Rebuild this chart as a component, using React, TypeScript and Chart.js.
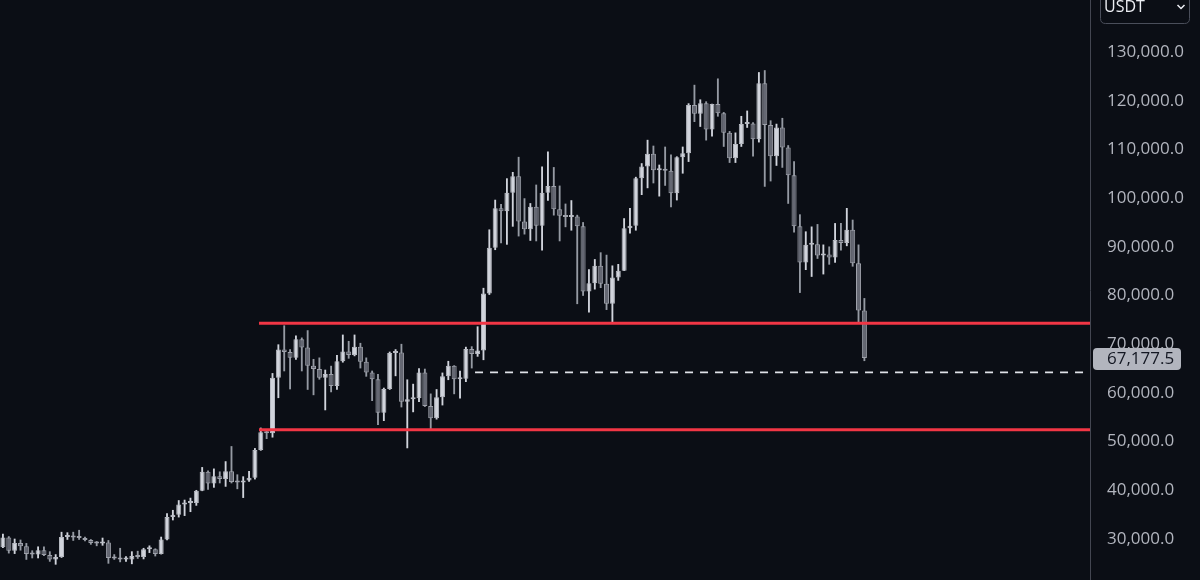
import React, { useEffect, useRef } from 'react';
import { Chart, registerables } from 'chart.js';

Chart.register(...registerables);

// Weekly BTC/USDT candles (thousands of USDT), first week 2023-04-10
const firstWeek = '2023-04-10';
const totalSlots = 186;

const opens = [
  28.3, 30.3, 27.6, 29.2, 28.5, 26.9, 26.8, 27.7, 26.7, 25.8,
  26.3, 30.4, 30.6, 30.3, 30.2, 29.8, 29.2, 29.1, 29.3, 26.1,
  26.0, 25.8, 25.8, 26.5, 26.3, 27.9, 27.9, 26.9, 29.9, 34.5,
  35.0, 37.1, 37.4, 37.4, 39.9, 43.8, 41.4, 42.9, 42.3, 43.9,
  41.7, 41.6, 42.0, 42.6, 48.3, 51.9, 51.7, 63.1, 68.9, 68.4,
  67.2, 71.0, 69.3, 65.6, 64.9, 63.1, 63.9, 61.4, 66.5, 68.5,
  67.8, 69.5, 66.4, 64.2, 62.8, 55.9, 60.8, 68.2, 68.3, 58.2,
  58.7, 58.9, 64.2, 57.3, 54.8, 59.1, 63.4, 65.6, 62.8, 62.9,
  69.0, 68.0, 68.7, 80.4, 89.8, 97.9, 97.3, 101.1, 104.5, 95.2,
  93.6, 98.2, 94.3, 101.1, 102.5, 97.7, 96.4, 96.1, 96.2, 94.2,
  80.8, 82.5, 86.1, 82.4, 78.3, 83.7, 85.1, 93.8, 94.3, 104.1,
  106.5, 109.1, 105.7, 105.7, 105.6, 101.0, 108.4, 109.2, 119.1, 117.3,
  119.5, 114.1, 119.3, 117.4, 113.4, 108.2, 111.1, 115.2, 115.3, 112.1,
  123.6, 115.0, 108.6, 114.5, 110.4, 104.7, 94.2, 86.8, 90.4, 90.5,
  88.2, 88.4, 87.8, 91.4, 90.8, 93.5, 86.6, 76.9,
];

const highs = [
  31.0, 30.5, 30.0, 29.8, 29.1, 27.6, 28.4, 28.4, 27.4, 26.8,
  31.4, 31.3, 31.4, 31.8, 30.4, 29.9, 29.5, 30.2, 29.7, 26.8,
  28.1, 26.4, 27.4, 27.5, 28.1, 28.6, 28.0, 30.4, 35.2, 35.9,
  37.9, 38.0, 38.4, 40.0, 44.7, 44.0, 44.4, 43.8, 45.9, 49.0,
  43.2, 42.8, 43.9, 48.6, 52.8, 52.4, 64.0, 69.9, 73.8, 68.9,
  71.7, 71.3, 72.8, 66.9, 67.2, 64.7, 65.5, 67.7, 71.9, 70.6,
  71.9, 70.2, 67.2, 64.5, 63.8, 61.0, 68.4, 68.9, 70.0, 62.7,
  61.8, 65.0, 64.9, 59.8, 60.7, 64.1, 66.5, 65.6, 64.5, 69.4,
  69.5, 73.6, 81.5, 93.5, 99.6, 98.7, 104.0, 105.3, 108.4, 99.9,
  98.9, 102.7, 106.4, 109.5, 106.3, 102.5, 98.8, 99.5, 96.5, 95.0,
  85.3, 87.4, 88.8, 88.3, 86.1, 86.4, 95.8, 97.9, 104.3, 107.1,
  111.9, 110.7, 106.8, 110.5, 108.9, 108.5, 110.5, 119.4, 123.2, 120.2,
  119.8, 119.3, 124.5, 117.6, 113.7, 113.4, 116.8, 117.9, 115.5, 125.8,
  126.2, 115.9, 115.2, 116.4, 110.8, 107.5, 96.6, 93.1, 94.1, 94.6,
  90.4, 90.0, 94.8, 94.8, 97.9, 95.5, 90.4, 79.4,
];

const lows = [
  28.2, 27.1, 27.0, 27.7, 25.8, 26.1, 26.1, 26.6, 25.4, 24.8,
  26.2, 29.9, 29.7, 29.9, 29.6, 28.9, 28.6, 28.7, 25.0, 25.8,
  25.3, 25.4, 24.9, 26.0, 25.9, 27.2, 26.5, 26.9, 29.8, 33.9,
  34.5, 34.8, 35.6, 36.9, 39.9, 40.2, 40.6, 41.5, 40.8, 41.5,
  40.3, 38.5, 41.8, 42.3, 48.2, 50.6, 50.9, 59.0, 64.5, 60.8,
  66.9, 64.5, 60.7, 59.6, 62.8, 56.5, 60.2, 60.7, 66.3, 67.1,
  67.6, 65.1, 63.4, 58.4, 53.5, 54.3, 60.7, 63.5, 57.1, 48.7,
  56.1, 58.2, 57.2, 52.5, 54.6, 57.5, 62.7, 59.8, 58.9, 62.3,
  65.1, 67.5, 66.8, 80.2, 89.4, 90.8, 90.5, 94.2, 92.2, 92.6,
  91.3, 91.2, 89.3, 99.5, 96.5, 91.2, 94.1, 93.4, 78.3, 80.0,
  76.6, 81.3, 81.6, 77.1, 74.5, 83.1, 85.1, 92.8, 93.4, 100.7,
  102.1, 103.1, 100.4, 102.6, 98.2, 99.6, 105.1, 107.5, 115.7, 114.7,
  111.9, 112.7, 116.8, 110.6, 107.3, 107.3, 110.6, 114.5, 108.6, 111.5,
  102.4, 103.5, 106.7, 106.3, 98.9, 93.0, 80.6, 85.3, 83.9, 87.6,
  84.4, 86.4, 86.8, 89.3, 90.2, 86.0, 74.6, 66.6,
];

const closes = [
  30.3, 27.6, 29.2, 28.5, 26.9, 26.8, 27.7, 26.7, 25.8, 26.3,
  30.4, 30.6, 30.3, 30.2, 29.8, 29.2, 29.1, 29.3, 26.1, 26.0,
  25.8, 25.8, 26.5, 26.3, 27.9, 27.9, 26.9, 29.9, 34.5, 35.0,
  37.1, 37.4, 37.4, 39.9, 43.8, 41.4, 42.9, 42.3, 43.9, 41.7,
  41.6, 42.0, 42.6, 48.3, 51.9, 51.7, 63.1, 68.9, 68.4, 67.2,
  71.0, 69.3, 65.6, 64.9, 63.1, 63.9, 61.4, 66.5, 68.5, 67.8,
  69.5, 66.4, 64.2, 62.8, 55.9, 60.8, 68.2, 68.3, 58.2, 58.7,
  58.9, 64.2, 57.3, 54.8, 59.1, 63.4, 65.6, 62.8, 62.9, 69.0,
  68.0, 68.7, 80.4, 89.8, 97.9, 97.3, 101.1, 104.5, 95.2, 93.6,
  98.2, 94.3, 101.1, 102.5, 97.7, 96.4, 96.1, 96.2, 94.2, 80.8,
  82.5, 86.1, 82.4, 78.3, 83.7, 85.1, 93.8, 94.3, 104.1, 106.5,
  109.1, 105.7, 105.7, 105.6, 101.0, 108.4, 109.2, 119.1, 117.3, 119.5,
  114.1, 119.3, 117.4, 113.4, 108.2, 111.1, 115.2, 115.3, 112.1, 123.6,
  115.0, 108.6, 114.5, 110.4, 104.7, 94.2, 86.8, 90.4, 90.5, 88.2,
  88.4, 87.8, 91.4, 90.8, 93.5, 86.6, 76.9, 67.1775,
];

const yTicks = [30, 40, 50, 60, 70, 80, 90, 100, 110, 120, 130];
const yMin = 21.58;
const yMax = 140.68;

// horizontal levels (thousands) and the week position where each starts
const levelValues = [74.28, 52.45];
const levelStarts = [43.7, 43.7];
const dashedValue = 64.22;
const dashedStart = 80.56;
const lastPrice = 67.1775;
const quoteCurrency = 'USDT';

const BG = '#0b0e15';
const UP_FILL = '#d1d4dc';
const UP_BORDER = '#b8bbc3';
const DOWN_FILL = '#656873';
const DOWN_BORDER = '#9ea1aa';
const UP_WICK = '#d1d4dc';
const DOWN_WICK = '#959aa3';
const RED = '#f23645';
const FONT = '"Open Sans", "Noto Sans", sans-serif';

const fmt = (v: number) =>
  (v * 1000).toLocaleString('en-US', { minimumFractionDigits: 1, maximumFractionDigits: 1 });

function buildLabels(): string[] {
  const start = Date.parse(firstWeek + 'T00:00:00Z');
  const out: string[] = [];
  for (let i = 0; i < totalSlots; i++) {
    out.push(new Date(start + i * 7 * 86400000).toISOString().slice(0, 10));
  }
  return out;
}

function roundRect(ctx: CanvasRenderingContext2D, x: number, y: number, w: number, h: number, r: number) {
  ctx.beginPath();
  ctx.moveTo(x + r, y);
  ctx.lineTo(x + w - r, y);
  ctx.quadraticCurveTo(x + w, y, x + w, y + r);
  ctx.lineTo(x + w, y + h - r);
  ctx.quadraticCurveTo(x + w, y + h, x + w - r, y + h);
  ctx.lineTo(x + r, y + h);
  ctx.quadraticCurveTo(x, y + h, x, y + h - r);
  ctx.lineTo(x, y + r);
  ctx.quadraticCurveTo(x, y, x + r, y);
  ctx.closePath();
}

const overlayPlugin = {
  id: 'overlay',
  beforeDraw(chart: any) {
    const { ctx, width, height } = chart;
    ctx.save();
    ctx.fillStyle = BG;
    ctx.fillRect(0, 0, width, height);
    ctx.restore();
  },
  afterDraw(chart: any) {
    const { ctx } = chart;
    const yScale = chart.scales.y;
    const left = yScale.left;
    const py = yScale.getPixelForValue(lastPrice);
    ctx.save();
    // last price tag
    ctx.fillStyle = '#b2b5be';
    roundRect(ctx, left + 3, py - 10, 88, 22, 4);
    ctx.fill();
    ctx.fillStyle = '#131722';
    ctx.font = '17px ' + FONT;
    ctx.textBaseline = 'middle';
    ctx.textAlign = 'left';
    ctx.fillText(fmt(lastPrice), left + 17, py + 1);
    // currency selector
    ctx.fillStyle = BG;
    ctx.strokeStyle = '#4a4e5a';
    ctx.lineWidth = 1;
    roundRect(ctx, left + 10.5, -8.5, 89, 32, 5);
    ctx.fill();
    ctx.stroke();
    ctx.fillStyle = '#eceef3';
    ctx.font = '16px ' + FONT;
    ctx.fillText(quoteCurrency, left + 14, 7.5);
    ctx.strokeStyle = '#eceef3';
    ctx.lineWidth = 1.5;
    ctx.beginPath();
    ctx.moveTo(left + 87.5, 5);
    ctx.lineTo(left + 91, 8.5);
    ctx.lineTo(left + 94.5, 5);
    ctx.stroke();
    ctx.restore();
  },
};

export default function App() {
  const canvasRef = useRef<HTMLCanvasElement | null>(null);

  useEffect(() => {
    const canvas = canvasRef.current;
    if (!canvas) return;
    const labels = buildLabels();
    const up = opens.map((o, i) => closes[i] >= o);
    const lastSlot = totalSlots - 0.5;

    const chart = new Chart(canvas, {
      type: 'bar',
      data: {
        labels,
        datasets: [
          {
            type: 'bar',
            label: 'wicks',
            data: lows.map((l, i) => [l, highs[i]]) as any,
            backgroundColor: up.map((u) => (u ? UP_WICK : DOWN_WICK)),
            borderWidth: 0,
            barThickness: 1.2,
            grouped: false,
            order: 3,
            xAxisID: 'x',
            yAxisID: 'y',
          } as any,
          {
            type: 'bar',
            label: 'bodies',
            data: opens.map((o, i) => [o, closes[i]]) as any,
            backgroundColor: up.map((u) => (u ? UP_FILL : DOWN_FILL)),
            borderColor: up.map((u) => (u ? UP_BORDER : DOWN_BORDER)),
            borderWidth: 1,
            borderSkipped: false,
            barPercentage: 0.86,
            categoryPercentage: 1,
            minBarLength: 2,
            grouped: false,
            order: 2,
            xAxisID: 'x',
            yAxisID: 'y',
          } as any,
          {
            type: 'line',
            label: 'dashed level',
            data: [
              { x: dashedStart, y: dashedValue },
              { x: lastSlot, y: dashedValue },
            ],
            borderColor: '#dfe1e8',
            borderWidth: 1.6,
            borderDash: [8, 7],
            pointRadius: 0,
            xAxisID: 'xl',
            yAxisID: 'y',
            order: 1,
          } as any,
          ...levelValues.map(
            (v, k) =>
              ({
                type: 'line',
                label: 'level ' + k,
                data: [
                  { x: levelStarts[k], y: v },
                  { x: lastSlot, y: v },
                ],
                borderColor: RED,
                borderWidth: 3,
                pointRadius: 0,
                xAxisID: 'xl',
                yAxisID: 'y',
                order: 0,
              } as any)
          ),
        ],
      },
      options: {
        responsive: false,
        maintainAspectRatio: false,
        devicePixelRatio: 1,
        animation: false,
        events: [],
        layout: { padding: 0 },
        plugins: {
          legend: { display: false },
          tooltip: { enabled: false },
        },
        scales: {
          x: {
            type: 'category',
            display: false,
            offset: true,
            grid: { display: false },
          },
          xl: {
            type: 'linear',
            display: false,
            offset: false,
            bounds: 'data',
            min: -0.5,
            max: totalSlots - 0.5,
            grid: { display: false, offset: false },
          },
          y: {
            type: 'linear',
            position: 'right',
            min: yMin,
            max: yMax,
            grid: { display: false, drawTicks: false },
            border: { display: true, color: '#434651', width: 1 },
            ticks: {
              color: '#b2b5be',
              font: { family: FONT, size: 17 },
              padding: 17,
              callback: (v: any) => fmt(Number(v)),
            },
            afterBuildTicks: (s: any) => {
              s.ticks = yTicks.map((v) => ({ value: v }));
            },
            afterFit: (s: any) => {
              s.width = 110;
              s.paddingTop = 0;
              s.paddingBottom = 0;
            },
          } as any,
        },
      } as any,
      plugins: [overlayPlugin],
    });

    return () => chart.destroy();
  }, []);

  return (
    <div
      style={{
        position: 'fixed',
        left: 0,
        top: 0,
        width: 1200,
        height: 580,
        background: BG,
        overflow: 'hidden',
      }}
    >
      <canvas ref={canvasRef} width={1200} height={580} style={{ display: 'block' }} />
    </div>
  );
}
